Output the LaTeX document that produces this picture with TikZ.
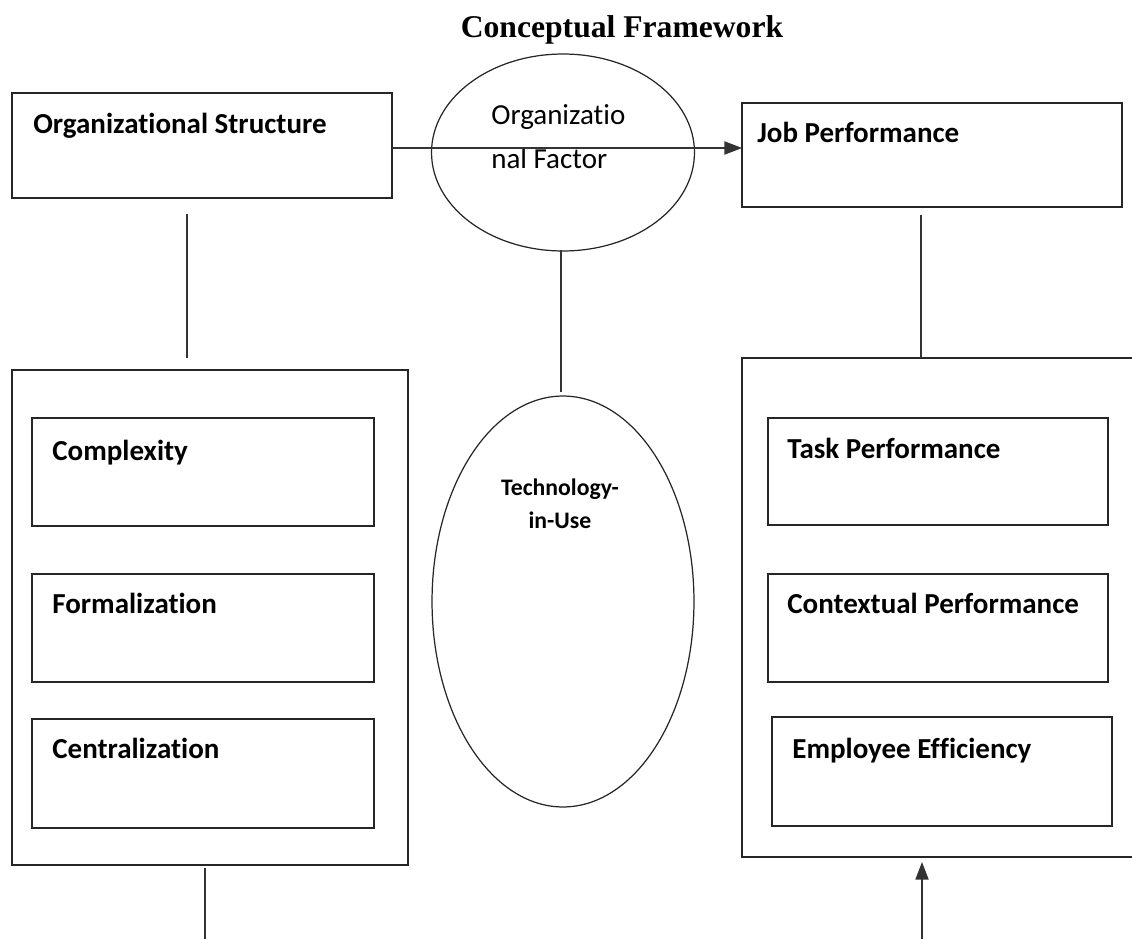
\documentclass[tikz,border=0pt]{standalone}
\usepackage{fontspec}
\setmainfont{Carlito}[Ligatures=NoCommon,RawFeature={-liga;-clig;-dlig}]
\newfontfamily\titlefont{Liberation Serif}
\usetikzlibrary{arrows.meta,shapes.geometric}
\begin{document}
\begin{tikzpicture}[x=0.02cm,y=-0.02cm,
  frame/.style={draw=black!85,line width=0.9pt,inner sep=0pt,outer sep=0pt},
  oval/.style={draw=black!85,line width=0.7pt,ellipse,inner sep=0pt,outer sep=0pt},
  lbl/.style={anchor=base west,inner sep=0pt,font=\fontsize{16.5}{19}\selectfont\bfseries},
  link/.style={draw=black!80,line width=0.7pt},
  arr/.style={link,-{Triangle[length=10pt,width=7.5pt]}}]
\useasboundingbox (0,0) rectangle (1132,939);

% title
\node (title) at (622,30) {\titlefont\bfseries\fontsize{18}{22}\selectfont Conceptual Framework};

% top row
\node[frame,minimum width=7.6cm,minimum height=2.1cm] (os) at (202,145.5) {};
\node[lbl] (oslbl) at (33,134) {Organizational Structure};
\node[frame,minimum width=7.6cm,minimum height=2.08cm] (jp) at (932,155) {};
\node[lbl] (jplbl) at (757,143) {Job Performance};
\node[oval,minimum width=5.26cm,minimum height=3.94cm] (of) at (563,152.5) {};
\node[anchor=base west,inner sep=0pt,font=\fontsize{16.5}{19}\selectfont] (oflbla) at (491,125) {Organizatio};
\node[anchor=base west,inner sep=0pt,font=\fontsize{16.5}{19}\selectfont] (oflblb) at (491,169) {nal Factor};

% left group
\node[frame,minimum width=7.92cm,minimum height=9.9cm] (lout) at (210,617.5) {};
\node[frame,minimum width=6.84cm,minimum height=2.16cm] (cx) at (203,472) {};
\node[lbl] (cxlbl) at (52,460) {Complexity};
\node[frame,minimum width=6.84cm,minimum height=2.16cm] (fm) at (203,628) {};
\node[lbl] (fmlbl) at (52,613) {Formalization};
\node[frame,minimum width=6.84cm,minimum height=2.18cm] (ce) at (203,773.5) {};
\node[lbl] (celbl) at (52,758) {Centralization};

% middle
\node[oval,minimum width=5.24cm,minimum height=8.22cm] (tu) at (563,601.5) {};
\node[inner sep=0pt,align=center,font=\fontsize{13.5}{18.5}\selectfont\bfseries,anchor=base] (tulbl) at (560,528) {Technology-\\in-Use};

% right group
\node[frame,minimum width=8.16cm,minimum height=9.98cm] (rout) at (946,607.5) {};
\node[frame,minimum width=6.8cm,minimum height=2.14cm] (tp) at (938,471.5) {};
\node[lbl] (tplbl) at (787,458) {Task Performance};
\node[frame,minimum width=6.8cm,minimum height=2.16cm] (cp) at (938,628) {};
\node[lbl] (cplbl) at (787,613) {Contextual Performance};
\node[frame,minimum width=6.8cm,minimum height=2.18cm] (ee) at (942,771.5) {};
\node[lbl] (eelbl) at (792,758) {Employee Efficiency};

% loose ends of the connectors
\coordinate (osdown) at (187,214);
\coordinate (loutup) at (187,358);
\coordinate (ofdown) at (561,250);
\coordinate (tuup) at (561,392);
\coordinate (jpdown) at (921,215);
\coordinate (loutdown) at (205,868);
\coordinate (leftend) at (205,939);
\coordinate (rightstart) at (922,939);
\coordinate (routdown) at (922,862);

% connectors
\draw[arr] (os.east |- 0,148) -- (jp.west |- 0,148);
\draw[link] (osdown) -- (loutup);
\draw[link] (ofdown) -- (tuup);
\draw[link] (jpdown) -- (jpdown |- rout.north);
\draw[link] (loutdown) -- (leftend);
\draw[arr] (rightstart) -- (routdown);
\end{tikzpicture}
\end{document}
